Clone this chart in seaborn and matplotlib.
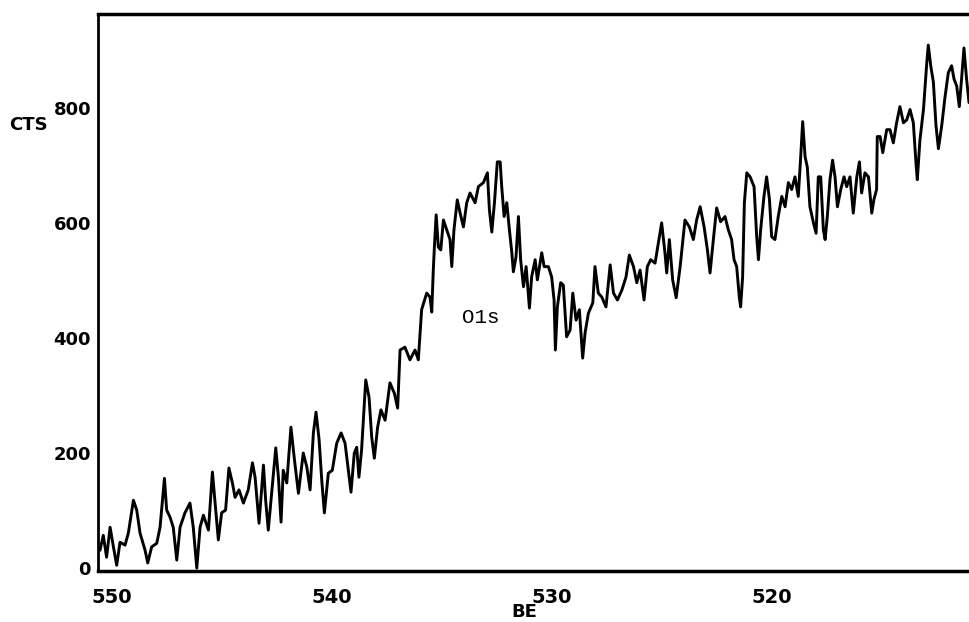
"""
 O1s spectrum, CTS vs BE
"""
import numpy as np
import pandas as pd
import matplotlib
matplotlib.use('Agg')
import matplotlib.pyplot as plt
import matplotlib.transforms as mtransforms
import seaborn as sns

be = [
    550.91, 550.76, 550.61, 550.45, 550.30, 550.15, 550.00, 549.77, 549.62, 549.39,
    549.24, 549.09, 548.86, 548.74, 548.56, 548.33, 548.18, 547.98, 547.88, 547.73,
    547.58, 547.42, 547.27, 547.05, 546.82, 546.67, 546.51, 546.36, 546.21, 545.98,
    545.80, 545.65, 545.53, 545.38, 545.20, 545.05, 544.89, 544.77, 544.59, 544.39,
    544.17, 543.98, 543.86, 543.68, 543.48, 543.38, 543.26, 543.11, 542.92, 542.80,
    542.68, 542.58, 542.42, 542.23, 542.07, 541.89, 541.67, 541.51, 541.36, 541.21,
    541.09, 540.95, 540.83, 540.71, 540.53, 540.35, 540.15, 539.95, 539.77, 539.62,
    539.50, 539.35, 539.24, 539.14, 539.02, 538.83, 538.68, 538.56, 538.44, 538.29,
    538.14, 537.95, 537.73, 537.53, 537.38,
    537.27, 537.05, 536.82, 536.59, 536.44, 536.29, 536.06, 535.91, 535.83, 535.76,
    535.71, 535.63, 535.53, 535.42, 535.30, 535.15, 535.00, 534.92, 534.82, 534.67,
    534.54, 534.39, 534.24, 534.09, 533.86, 533.71, 533.48, 533.30, 533.21, 533.10,
    532.98, 532.85, 532.72, 532.65, 532.54, 532.42, 532.30, 532.19, 532.12, 532.00,
    531.89, 531.79, 531.66, 531.54, 531.39, 531.29, 531.13, 531.03, 530.83, 530.72,
    530.53, 530.38, 530.27, 530.21, 530.12, 529.97, 529.85, 529.70, 529.54, 529.42,
    529.27, 529.12, 528.97, 528.86, 528.71, 528.51, 528.41, 528.26, 528.10, 527.91,
    527.72, 527.57, 527.39, 527.19, 527.00, 526.85, 526.66, 526.51, 526.36, 526.18,
    526.03, 525.88, 525.68, 525.53, 525.38, 525.23, 525.15, 525.03, 524.88, 524.72,
    524.54, 524.32, 524.12, 523.94, 523.79, 523.63, 523.45, 523.30, 523.18, 523.03,
    522.88, 522.70, 522.50,
    522.35, 522.20, 522.09, 521.97, 521.85, 521.79, 521.70, 521.62, 521.51, 521.36,
    521.18, 521.06, 520.98, 520.88, 520.73, 520.61, 520.48, 520.38, 520.23, 520.08,
    519.92, 519.77, 519.62, 519.47, 519.32, 519.17, 519.06, 518.97, 518.86, 518.76,
    518.64, 518.48, 518.36, 518.26, 518.15, 518.03, 517.95, 517.85, 517.73, 517.61,
    517.50, 517.39, 517.24, 517.09, 516.97, 516.82, 516.67, 516.51, 516.39, 516.29,
    516.14, 515.98, 515.83, 515.73, 515.61, 515.58, 515.45, 515.33, 515.15, 515.00,
    514.85, 514.70, 514.55, 514.39, 514.24, 514.09, 513.94, 513.82, 513.76, 513.64,
    513.48, 513.33, 513.26, 513.15, 513.03, 512.91, 512.80, 512.65, 512.50, 512.35,
    512.20, 512.09, 511.97, 511.85, 511.74, 511.64, 511.52, 511.41,
]

# counts
cts = [
    31, 57, 19, 71, 37, 5, 45, 40, 61, 118,
    101, 61, 31, 9, 37, 43, 71, 156, 101, 89,
    71, 14, 71, 96, 113, 71, 0, 71, 92, 66,
    167, 101, 49, 96, 101, 174, 148, 123, 136, 113,
    136, 183, 158, 78, 179, 118, 66, 130, 209, 158,
    80, 170, 148, 245, 188, 130, 200, 176, 136, 235,
    271, 223, 153, 96, 165, 170, 217, 235, 217, 170,
    132, 200, 210, 158, 205, 327, 297, 228, 191, 245,
    275, 257, 322, 304, 278,
    379, 384, 362, 379, 362, 449, 478, 471, 445, 518,
    558, 614, 558, 553, 605, 588, 571, 524, 588, 640,
    617, 593, 635, 652, 635, 663, 670, 687, 623, 584,
    635, 706, 706, 663, 611, 635, 588, 548, 515, 541,
    611, 536, 489, 524, 452, 506, 536, 501, 548, 524,
    524, 506, 466, 379, 454, 496, 492, 402, 414, 478,
    431, 449, 365, 409, 443, 461, 524, 478, 471, 454,
    527, 478, 466, 483, 506, 544, 524, 496, 518, 466,
    524, 536, 530, 565, 600, 548, 513, 571, 501, 470,
    524, 605, 593, 571, 605, 628, 593, 553, 513, 571,
    626, 602, 611,
    588, 571, 536, 524, 471, 454, 506, 635, 687, 680,
    663, 576, 536, 588, 646, 680, 641, 576, 571, 611,
    646, 628, 670, 658, 680, 646, 715, 776, 715, 697,
    628, 600, 582, 680, 680, 588, 571, 611, 675, 709,
    680, 628, 658, 680, 663, 680, 617, 680, 706, 652,
    687, 680, 617, 641, 658, 750, 750, 722, 762, 762,
    739, 774, 802, 774, 779, 797, 774, 704, 675, 744,
    797, 878, 909, 873, 845, 769, 729, 769, 819, 861,
    873, 850, 838, 802, 854, 904, 850, 809,
]

x_ticks = [550, 540, 530, 520]
y_ticks = [0, 200, 400, 600, 800]

df = pd.DataFrame({'BE': be, 'CTS': cts})

sns.set_style('white')
plt.rcParams['font.family'] = ['DejaVu Sans']
plt.rcParams['text.color'] = 'black'
plt.rcParams['axes.labelcolor'] = 'black'

fig = plt.figure(figsize=(9.69, 6.22), dpi=100)
ax = fig.add_axes([98 / 969, 1 - 571 / 622, 1 - 98 / 969, (571 - 14) / 622])

sns.lineplot(data=df, x='BE', y='CTS', ax=ax, color='black', linewidth=2.1,
             sort=False, estimator=None)

ax.set_xlim(551.0, 511.41)
ax.set_ylim(-5, 963)
ax.set_xticks(x_ticks)
ax.set_yticks(y_ticks)
ax.set_xticklabels([str(t) for t in x_ticks])
ax.set_yticklabels([str(t) for t in y_ticks])

ax.tick_params(axis='both', direction='out', length=3, width=1.5, color='black',
               labelsize=13, labelcolor='black')
ax.tick_params(axis='x', pad=9, labelsize=14)
ax.tick_params(axis='y', pad=2)
for lbl in ax.get_xticklabels() + ax.get_yticklabels():
    lbl.set_fontweight('bold')
# plotter put the x numbers a bit left of the tick
shift = mtransforms.ScaledTranslation(-8 / 100, 0, fig.dpi_scale_trans)
for lbl in ax.get_xticklabels():
    lbl.set_transform(lbl.get_transform() + shift)

for side in ['top', 'left', 'bottom']:
    ax.spines[side].set_visible(True)
    ax.spines[side].set_color('black')
ax.spines['top'].set_linewidth(2.5)
ax.spines['bottom'].set_linewidth(2.5)
ax.spines['left'].set_linewidth(2)
ax.spines['right'].set_visible(False)

ax.set_ylabel('CTS', rotation=0, fontsize=13, fontweight='bold', color='black',
              ha='center', va='center')
ax.yaxis.set_label_coords(-0.08, 0.80)
ax.set_xlabel('BE', fontsize=13, fontweight='bold', color='black', ha='center', va='center')
ax.xaxis.set_label_coords(0.49, -0.073)

ax.text(533.6, 436, 'O1s', fontsize=15, family=['Liberation Mono', 'DejaVu Sans Mono'],
        color='black', ha='center', va='center')

fig.savefig('out.png', dpi=100)
